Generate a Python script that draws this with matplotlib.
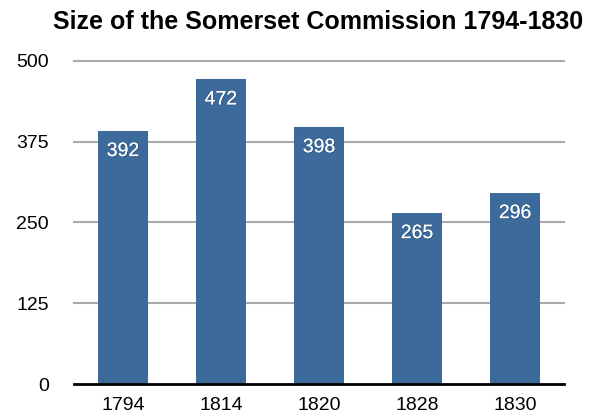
import matplotlib
matplotlib.use('Agg')
import matplotlib.pyplot as plt
import matplotlib.patheffects as pe

# Data
years = ['1794', '1814', '1820', '1828', '1830']
sizes = [392, 472, 398, 265, 296]
yticks = [0, 125, 250, 375, 500]

bar_color = '#3c6a9b'
grid_color = '#aaaaaa'

plt.rcParams['font.family'] = ['Liberation Sans', 'DejaVu Sans']

fig = plt.figure(figsize=(5.92, 4.16), dpi=100)
ax = fig.add_axes([0.125, 0.0769, 0.828, 0.7765])

x = list(range(len(years)))
bars = ax.bar(x, sizes, width=0.51, color=bar_color, zorder=3)

ax.set_xlim(-0.5, len(years) - 0.5)
ax.set_ylim(0, 500)
ax.set_yticks(yticks)
ax.set_yticklabels([str(t) for t in yticks], fontsize=14)
ax.set_xticks(x)
ax.set_xticklabels(years, fontsize=14)
ax.tick_params(axis='both', length=0)
ax.tick_params(axis='y', pad=18)
ax.tick_params(axis='x', pad=9)

# Gridlines
for t in yticks[1:]:
    ax.axhline(t, color=grid_color, linewidth=1.5, zorder=1, clip_on=False)

for s in ['top', 'right', 'left']:
    ax.spines[s].set_visible(False)
ax.spines['bottom'].set_linewidth(2)
ax.spines['bottom'].set_color('black')
ax.spines['bottom'].set_zorder(4)

# Value labels
for xi, v in zip(x, sizes):
    ax.annotate(str(v), (xi, v), xytext=(0, -15), textcoords='offset points',
                ha='center', va='center', color='white', fontsize=14, zorder=5,
                path_effects=[pe.withSimplePatchShadow(offset=(0.5, -0.5),
                                                       shadow_rgbFace='#1f3a57', alpha=0.6),
                              pe.Normal()])

fig.text(0.538, 0.947, 'Size of the Somerset Commission 1794-1830', ha='center', va='center',
         fontsize=18, fontweight='bold')

fig.savefig('out.png', dpi=100)
